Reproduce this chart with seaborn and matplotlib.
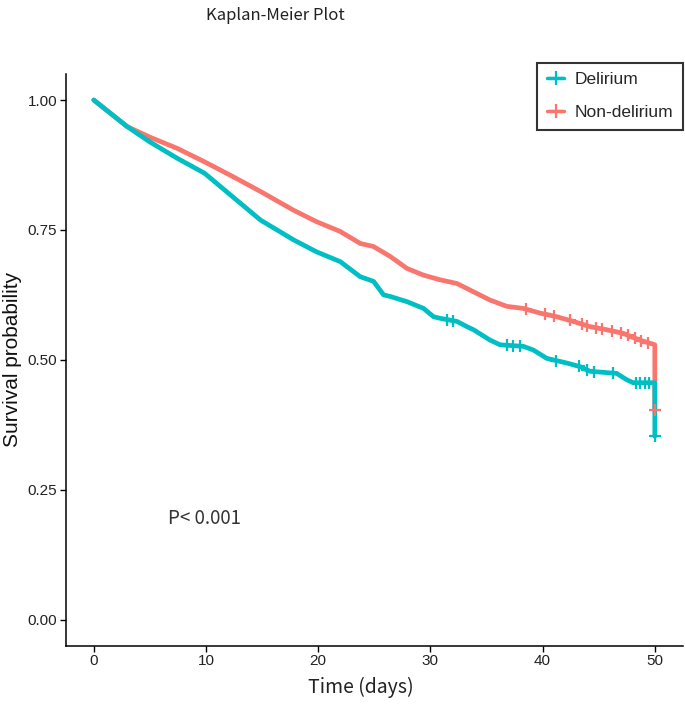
import numpy as np
import pandas as pd
import matplotlib
matplotlib.use("Agg")
import matplotlib.pyplot as plt
from matplotlib.lines import Line2D
import seaborn as sns

# Kaplan-Meier estimates (time in days, survival probability)
nondel_time = [0, 2.97, 4.95, 7.43, 9.88, 12.37, 14.86, 17.8, 19.84, 21.97, 23.75,
               24.94, 26.42, 27.91, 29.39, 30.87, 32.36, 33.84, 35.32, 36.81, 38.28,
               39.77, 41.25, 42.73, 44.22, 45.70, 47.18, 48.67, 50, 50]
nondel_surv = [1.0, 0.949, 0.929, 0.907, 0.881, 0.853, 0.824, 0.788, 0.766, 0.747, 0.724,
               0.718, 0.699, 0.676, 0.663, 0.654, 0.647, 0.631, 0.615, 0.603, 0.599,
               0.590, 0.583, 0.574, 0.564, 0.558, 0.551, 0.538, 0.529, 0.404]

del_time = [0, 2.97, 4.95, 7.43, 9.88, 12.37, 14.86, 17.8, 19.84, 21.97, 23.75,
            24.94, 25.83, 26.42, 27.91, 29.39, 30.28, 30.87, 32.36, 33.25, 33.84,
            35.32, 36.21, 38.28, 39.17, 40.36, 42.14, 43.33, 44.22, 46.59, 47.48,
            48.07, 50, 50]
del_surv = [1.0, 0.949, 0.920, 0.888, 0.859, 0.814, 0.769, 0.731, 0.708, 0.689, 0.660,
            0.651, 0.625, 0.622, 0.612, 0.599, 0.583, 0.580, 0.574, 0.564, 0.558,
            0.538, 0.529, 0.526, 0.519, 0.503, 0.494, 0.487, 0.478, 0.474, 0.462,
            0.456, 0.456, 0.353]

# censoring times (visible "+" marks)
nondel_cens = [38.5, 40.2, 41.0, 42.4, 43.5, 44.0, 44.8, 45.3, 46.2, 47.0,
               47.6, 48.2, 48.8, 49.4, 50]
del_cens = [31.5, 32.0, 36.8, 37.4, 38.0, 41.2, 43.2, 44.0, 44.6, 46.3,
            48.3, 48.7, 49.1, 49.5, 50]

groups = ["Delirium", "Non-delirium"]
colors = {"Delirium": "#00BFC4", "Non-delirium": "#F8766D"}
p_text = "P< 0.001"


def censor_points(times, surv, cens):
    # survival value at each censoring time; the final one sits at the end of the curve
    ys = []
    for t in cens:
        if t >= times[-1]:
            ys.append(surv[-1])
        else:
            ys.append(np.interp(t, times[:-1], surv[:-1]))
    return ys


curves = {
    "Non-delirium": pd.DataFrame({"time": nondel_time, "surv": nondel_surv}),
    "Delirium": pd.DataFrame({"time": del_time, "surv": del_surv}),
}
cens = {
    "Non-delirium": pd.DataFrame({"time": nondel_cens,
                                  "surv": censor_points(nondel_time, nondel_surv, nondel_cens)}),
    "Delirium": pd.DataFrame({"time": del_cens,
                              "surv": censor_points(del_time, del_surv, del_cens)}),
}

sns.set_theme(style="ticks")
plt.rcParams["font.family"] = ["Liberation Sans", "DejaVu Sans"]

fig = plt.figure(figsize=(6.85, 7.05), dpi=100)
ax = fig.add_axes([0.0959, 0.0841, 0.901, 0.8109])

for g in ["Non-delirium", "Delirium"]:
    sns.lineplot(data=curves[g], x="time", y="surv", color=colors[g], lw=3.4,
                 estimator=None, sort=False, ax=ax)
    sns.scatterplot(data=cens[g], x="time", y="surv", color=colors[g], marker="+",
                    s=70, linewidth=1.6, ax=ax, zorder=3)

ax.set_xlim(-2.5, 52.5)
ax.set_ylim(-0.05, 1.05)
ax.set_xticks([0, 10, 20, 30, 40, 50])
ax.set_yticks([0, 0.25, 0.5, 0.75, 1.0])
ax.set_yticklabels(["0.00", "0.25", "0.50", "0.75", "1.00"])
ax.tick_params(axis="both", labelsize=11, length=4, width=1, color="black",
               labelcolor="#222222", pad=2)
for s in ["top", "right"]:
    ax.spines[s].set_visible(False)
for s in ["left", "bottom"]:
    ax.spines[s].set_color("black")
    ax.spines[s].set_linewidth(1.1)

ax.set_ylabel("Survival probability", fontsize=15, color="#111111", labelpad=4)
ax.set_xlabel("Time (days)", fontsize=14, color="#222222",
              family=["Noto Sans CJK SC", "DejaVu Sans"], labelpad=8)
ax.xaxis.set_label_coords(0.478, -0.055)

ax.text(6.6, 0.194, p_text, fontsize=13.5, color="#333333", ha="left", va="center",
        family=["Noto Sans CJK SC", "DejaVu Sans"])

handles = [Line2D([0], [0], color=colors[g], lw=2.5, marker="+", markersize=10,
                  markeredgewidth=1.6) for g in groups]
leg = fig.legend(handles, groups, loc="upper right", bbox_to_anchor=(0.997, 0.911),
                 borderaxespad=0, fontsize=12.5, frameon=True, fancybox=False,
                 handlelength=1.0, borderpad=0.55, labelspacing=1.0, handletextpad=0.6)
leg.get_frame().set_edgecolor("black")
leg.get_frame().set_linewidth(1.5)

fig.text(275 / 685, 1 - 15 / 705, "Kaplan-Meier Plot", fontsize=12, ha="center",
         va="center", color="#222222", family=["Noto Sans CJK SC", "DejaVu Sans"])

fig.savefig("out.png", dpi=100)
